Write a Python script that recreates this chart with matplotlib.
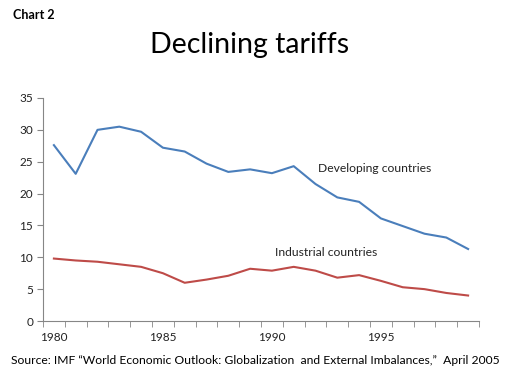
import numpy as np
import matplotlib
matplotlib.use('Agg')
import matplotlib.pyplot as plt

years = list(range(1980, 2000))
developing = [27.6, 23.1, 30.0, 30.5, 29.7, 27.2, 26.6, 24.7, 23.4, 23.8,
              23.2, 24.3, 21.5, 19.4, 18.7, 16.1, 14.9, 13.7, 13.1, 11.3]
industrial = [9.8, 9.5, 9.3, 8.9, 8.5, 7.5, 6.0, 6.5, 7.1, 8.2,
              7.9, 8.5, 7.9, 6.8, 7.2, 6.3, 5.3, 5.0, 4.4, 4.0]
year_labels = [1980, 1985, 1990, 1995]

plt.rcParams['font.family'] = ['Lato', 'DejaVu Sans']

fig = plt.figure(figsize=(5.06, 3.76), dpi=100)
ax = fig.add_axes([43/506, 55/376, 436/506, 223/376])

ax.plot(years, developing, color='#4A7EBB', lw=1.5)
ax.plot(years, industrial, color='#BE4B48', lw=1.5)

ax.set_xlim(1979.5, 1999.5)
ax.set_ylim(0, 35)
ax.set_yticks(range(0, 36, 5))
ax.set_xticks(year_labels)
ax.set_xticks(np.arange(1979.5, 2000, 1), minor=True)
ax.tick_params(axis='x', which='major', length=0, pad=8, labelsize=8.5, colors='#222222')
ax.tick_params(axis='x', which='minor', length=4, color='#868686')
ax.tick_params(axis='y', length=4, color='#868686', labelsize=8.5, labelcolor='#222222', pad=3)

for s in ['top', 'right']:
    ax.spines[s].set_visible(False)
for s in ['left', 'bottom']:
    ax.spines[s].set_color('#868686')

ax.text(1992.1, 23.9, 'Developing countries', fontsize=8.7, va='center', color='#222222')
ax.text(1990.15, 10.7, 'Industrial countries', fontsize=8.7, va='center', color='#222222')

fig.text(13/506, 1 - 15/376, 'Chart 2', fontsize=9, fontweight='bold', va='center')
fig.text(250/506, 1 - 45/376, 'Declining tariffs', fontsize=20.5, ha='center', va='center')
fig.text(255/506, 1 - 361/376,
         'Source: IMF \u201cWorld Economic Outlook: Globalization  and External Imbalances,\u201d  April 2005',
         fontsize=8.7, ha='center', va='center')

fig.savefig('out.png', dpi=100)
